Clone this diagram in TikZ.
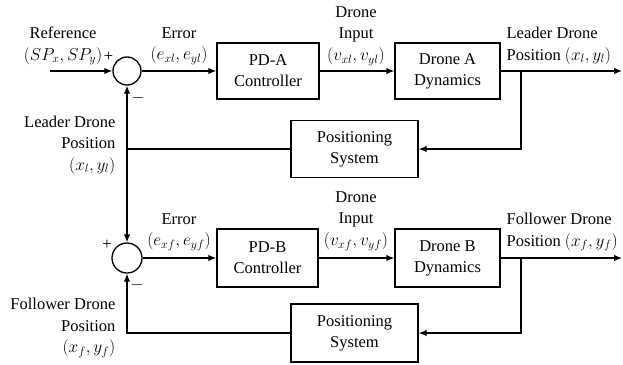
\documentclass[tikz,border=0pt]{standalone}
\usepackage{fontspec}
\setmainfont{Liberation Serif}
\newfontfamily\diagfont{Liberation Serif}
\usetikzlibrary{arrows.meta}
\tikzset{
  every picture/.style={line width=1.3pt},
  blk/.style={draw, line width=1.3pt, align=center, inner sep=0pt,
              font=\diagfont\fontsize{16.5}{21}\selectfont},
  sumc/.style={draw, circle, line width=1.3pt, inner sep=0pt},
  lbl/.style={align=center, inner sep=0pt, font=\diagfont\fontsize{16.5}{21.5}\selectfont},
  sig/.style={-{Latex[length=8pt,width=6.5pt]}},
}
\begin{document}
\begin{tikzpicture}[x=1pt,y=-1pt]
\useasboundingbox (0,0) rectangle (623,364);

% ---- leader loop ----
\node[sumc, minimum size=28pt] (sA) at (127,71) {};
\node[blk, minimum width=102pt, minimum height=56pt] (pdA) at (268,71) {PD-A\\Controller};
\node[blk, minimum width=105pt, minimum height=56pt] (dynA) at (447.5,71) {Drone A\\Dynamics};
\node[blk, minimum width=127pt, minimum height=57pt] (posA) at (354.5,149) {Positioning\\System};
\coordinate (refin) at (50,71);
\coordinate (outA) at (622,71);
\coordinate (brA) at (521,71);
\coordinate (jA) at (127,149);

\draw[sig] (refin) -- (sA);
\draw[sig] (sA) -- (pdA);
\draw[sig] (pdA) -- (dynA);
\draw[sig] (dynA) -- (outA);
\draw[sig] (brA) |- (posA);
\draw (posA) -- (jA);
\draw[sig] (jA) -- (sA);

% ---- follower loop ----
\node[sumc, minimum size=30pt] (sB) at (127,258) {};
\node[blk, minimum width=101pt, minimum height=58pt] (pdB) at (267.5,258) {PD-B\\Controller};
\node[blk, minimum width=105pt, minimum height=58pt] (dynB) at (447.5,258) {Drone B\\Dynamics};
\node[blk, minimum width=127pt, minimum height=58pt] (posB) at (354.5,333) {Positioning\\System};
\coordinate (outB) at (622,258);
\coordinate (brB) at (521,258);

\draw[sig] (jA) -- (sB);
\draw[sig] (sB) -- (pdB);
\draw[sig] (pdB) -- (dynB);
\draw[sig] (dynB) -- (outB);
\draw[sig] (brB) |- (posB);
\draw[sig] (posB) -| (sB);

% ---- signal labels ----
\node[lbl] (tref) at (63,46) {Reference\\$(SP_x,SP_y)$};
\node[lbl] (pA) at (108.5,57) {+};
\node[lbl] (mA) at (138,98) {$-$};
\node[lbl] (terrA) at (179,46) {Error\\$(e_{xl},e_{yl})$};
\node[lbl] (tinA) at (356,36) {Drone\\Input\\$(v_{xl},v_{yl})$};
\node[lbl, anchor=west, align=left] (toutA) at (506,46) {Leader Drone\\Position $(x_l,y_l)$};
\node[lbl, anchor=east, align=right] (tfbA) at (116,145) {Leader Drone\\Position\\$(x_l,y_l)$};

\node[lbl] (pB) at (107,245) {+};
\node[lbl] (mB) at (137,285) {$-$};
\node[lbl] (terrB) at (179,232) {Error\\$(e_{xf},e_{yf})$};
\node[lbl] (tinB) at (356,221) {Drone\\Input\\$(v_{xf},v_{yf})$};
\node[lbl, anchor=west, align=left] (toutB) at (506,232) {Follower Drone\\Position $(x_f,y_f)$};
\node[lbl, anchor=east, align=right] (tfbB) at (116,328) {Follower Drone\\Position\\$(x_f,y_f)$};
\end{tikzpicture}
\end{document}
